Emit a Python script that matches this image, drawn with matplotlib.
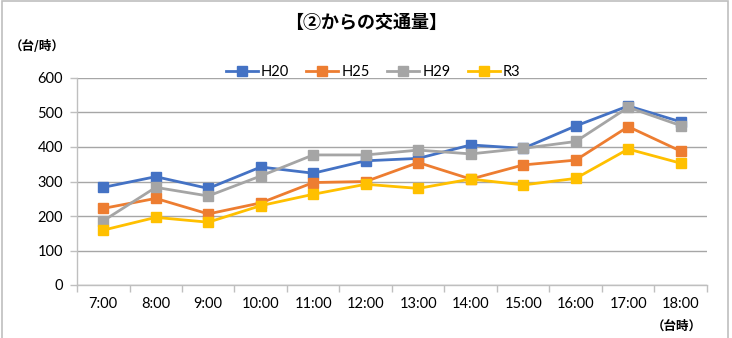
import matplotlib
matplotlib.use("Agg")
import matplotlib.pyplot as plt
from matplotlib.patches import Rectangle
import numpy as np

plt.rcParams['font.family'] = ['Lato', 'Noto Sans CJK JP', 'DejaVu Sans']

hours = ["7:00", "8:00", "9:00", "10:00", "11:00", "12:00", "13:00",
         "14:00", "15:00", "16:00", "17:00", "18:00"]
H20 = [283, 314, 280, 342, 324, 360, 367, 406, 396, 461, 519, 473]
H25 = [222, 251, 206, 238, 297, 300, 355, 307, 348, 362, 459, 388]
H29 = [186, 283, 258, 316, 377, 377, 391, 380, 396, 416, 515, 462]
R3 = [159, 196, 182, 230, 263, 292, 280, 307, 290, 309, 394, 353]

series = [("H20", H20, "#4472C4"), ("H25", H25, "#ED7D31"),
          ("H29", H29, "#A5A5A5"), ("R3", R3, "#FFC000")]

W, H = 732, 338
fig = plt.figure(figsize=(W / 100, H / 100), dpi=100)
fig.patch.set_facecolor("white")
fig.add_artist(Rectangle((2 / W, -0.05), 726 / W, 1.05 - 1.5 / H,
                         transform=fig.transFigure, fill=False,
                         edgecolor="#BFBFBF", linewidth=1.2))

ax = fig.add_axes([77 / W, 1 - 285 / H, 630 / W, 207 / H])
x = np.arange(len(hours))
for name, vals, col in series:
    ax.plot(x, vals, color=col, linewidth=2.0, marker="s", markersize=7,
            label=name, zorder=3)

ax.set_xlim(-0.5, len(hours) - 0.5)
ax.set_ylim(0, 600)
ax.set_yticks(np.arange(0, 601, 100))
ax.set_xticks(x)
ax.set_xticklabels(hours)
ax.set_xticks(np.arange(-0.5, len(hours), 1), minor=True)
ax.tick_params(axis="x", which="major", length=0, labelsize=10.5, pad=9, colors="#000000")
ax.tick_params(axis="x", which="minor", length=5, color="#BFBFBF", width=1)
ax.tick_params(axis="y", length=5, color="#BFBFBF", width=1, labelsize=10.5, pad=5)
ax.grid(axis="y", color="#A6A6A6", linewidth=1.0, zorder=0)
for s in ["top", "right"]:
    ax.spines[s].set_visible(False)
ax.spines["left"].set_color("#BFBFBF")
ax.spines["bottom"].set_color("#BFBFBF")
ax.spines["left"].set_linewidth(1.0)
ax.spines["bottom"].set_linewidth(1.0)
ax.set_axisbelow(True)

fig.text(366 / W, 1 - 22 / H, "【②からの交通量】", ha="center", va="center",
         fontsize=13, fontweight="bold", family=["Noto Sans CJK JP"])
fig.text(10 / W, 1 - 46 / H, "（台/時）", ha="left", va="center",
         fontsize=9, fontweight="bold", family=["Noto Sans CJK JP"])
fig.text(702 / W, 1 - 326 / H, "（台時）", ha="right", va="center",
         fontsize=9, fontweight="bold", family=["Noto Sans CJK JP"])

fig.legend(loc="center", bbox_to_anchor=(373 / W, 1 - 72 / H), ncol=4,
           frameon=False, fontsize=10.5, handlelength=2.2, handletextpad=0.2,
           columnspacing=1.2, borderaxespad=0)

fig.savefig("out.png", dpi=100)
